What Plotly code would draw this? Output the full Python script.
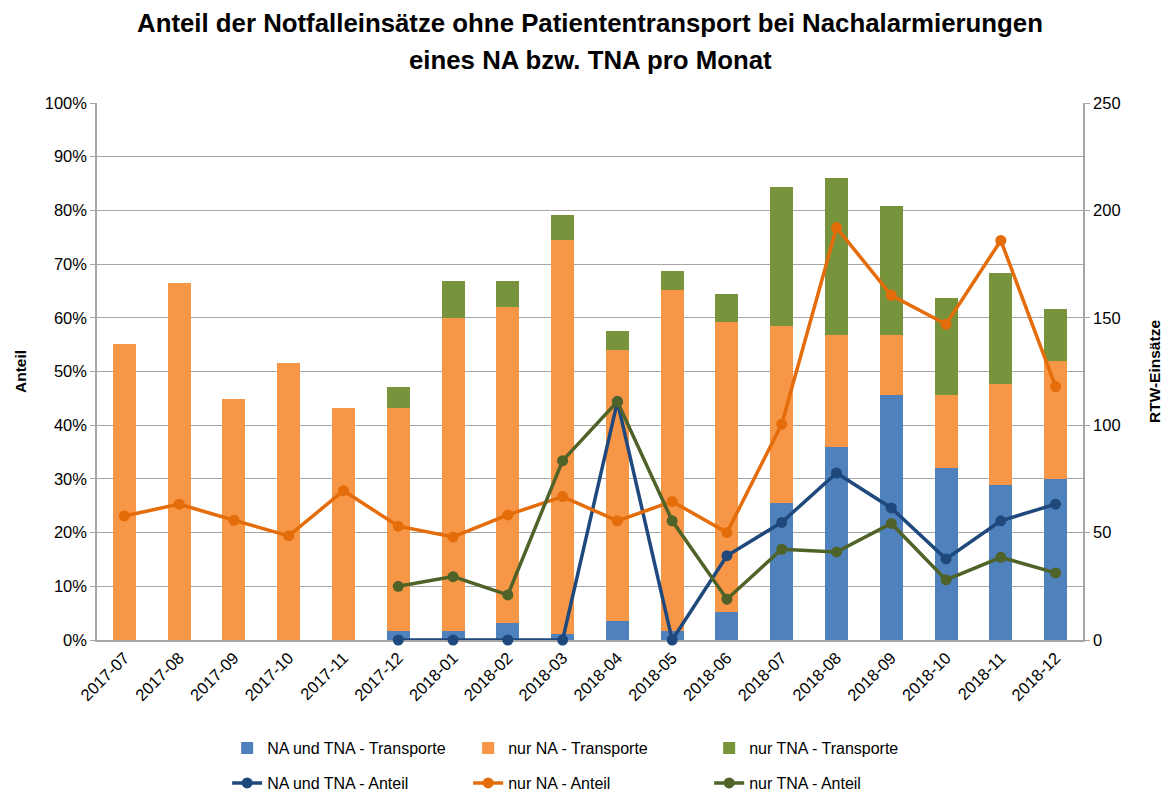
import plotly.graph_objects as go

months = ["2017-07", "2017-08", "2017-09", "2017-10", "2017-11", "2017-12",
          "2018-01", "2018-02", "2018-03", "2018-04", "2018-05", "2018-06",
          "2018-07", "2018-08", "2018-09", "2018-10", "2018-11", "2018-12"]

# RTW-Einsätze (stacked bars, right axis)
na_tna_transporte = [0, 0, 0, 0, 0, 4, 4, 8, 3, 9, 4, 13, 64, 90, 114, 80, 72, 75]
nur_na_transporte = [138, 166, 112, 129, 108, 104, 146, 147, 183, 126, 159, 135, 82, 52, 28, 34, 47, 55]
nur_tna_transporte = [0, 0, 0, 0, 0, 10, 17, 12, 12, 9, 9, 13, 65, 73, 60, 45, 52, 24]

# Anteil (lines, left axis, fraction)
na_tna_anteil = [None, None, None, None, None, 0.0, 0.0, 0.0, 0.0, 0.444, 0.0, 0.157,
                 0.219, 0.311, 0.246, 0.151, 0.222, 0.253]
nur_na_anteil = [0.231, 0.253, 0.223, 0.194, 0.278, 0.212, 0.192, 0.233, 0.267, 0.222,
                 0.258, 0.200, 0.402, 0.768, 0.642, 0.588, 0.744, 0.472]
nur_tna_anteil = [None, None, None, None, None, 0.100, 0.118, 0.084, 0.334, 0.444, 0.222,
                  0.076, 0.169, 0.164, 0.217, 0.112, 0.154, 0.125]

title_lines = ["Anteil der Notfalleinsätze ohne Patiententransport bei Nachalarmierungen",
               "eines NA bzw. TNA pro Monat"]

FONT = "Liberation Sans"
OFF = 8  # page body margin
W, H = 1171 - OFF, 793 - OFF
ML, MR, MT, MB = 97 - OFF, 88, 103 - OFF, 153
PH = H - MT - MB

fig = go.Figure()

bar_specs = [
    ("NA und TNA - Transporte", na_tna_transporte, "#4F81BD"),
    ("nur NA - Transporte", nur_na_transporte, "#F79646"),
    ("nur TNA - Transporte", nur_tna_transporte, "#77933C"),
]
for name, vals, col in bar_specs:
    fig.add_trace(go.Bar(x=months, y=vals, name=name, marker_color=col,
                         marker_line_width=0, yaxis="y", legend="legend"))

line_specs = [
    ("NA und TNA - Anteil", na_tna_anteil, "#1F497D"),
    ("nur NA - Anteil", nur_na_anteil, "#E46C0A"),
    ("nur TNA - Anteil", nur_tna_anteil, "#4F6228"),
]
for name, vals, col in line_specs:
    fig.add_trace(go.Scatter(x=months, y=vals, name=name, mode="lines+markers",
                             line=dict(color=col, width=3.5),
                             marker=dict(color=col, size=11),
                             cliponaxis=False,
                             yaxis="y2", legend="legend2", connectgaps=False))

# two-line title as text annotations (exact line placement)
for txt, py in zip(title_lines, [23, 60]):
    fig.add_annotation(text=txt, x=0.5, xref="paper", xanchor="center",
                       y=(H - MB - (py - OFF)) / PH, yref="paper", yanchor="middle",
                       showarrow=False,
                       font=dict(family=FONT, size=25.8, color="black", weight="bold"))

fig.update_layout(
    width=W, height=H,
    paper_bgcolor="white", plot_bgcolor="white",
    font=dict(family=FONT, size=16.5, color="black"),
    margin=dict(l=ML, r=MR, t=MT, b=MB, autoexpand=False),
    barmode="stack", bargap=0.58,
    xaxis=dict(type="category", tickangle=-45, showgrid=False,
               range=[-0.5, len(months) - 0.5], autorange=False,
               showline=True, linecolor="#A6A6A6", linewidth=1.5,
               layer="below traces",
               ticks="", tickfont=dict(size=16.5), automargin=False),
    yaxis=dict(range=[0, 250], dtick=50, side="right", showgrid=False,
               showline=True, linecolor="#A6A6A6", linewidth=1.5,
               ticks="outside", ticklen=5, tickcolor="#A6A6A6",
               layer="below traces",
               zeroline=False, automargin=False, tickfont=dict(size=16.5),
               title=dict(text="RTW-Einsätze", font=dict(size=15.5, weight="bold"), standoff=30)),
    yaxis2=dict(range=[0, 1], dtick=0.1, tickformat=".0%", side="left",
                overlaying="y", showgrid=True, gridcolor="#A6A6A6", gridwidth=1.3,
                showline=True, linecolor="#A6A6A6", linewidth=1.5,
                ticks="outside", ticklen=5, tickcolor="#A6A6A6",
                layer="below traces",
                zeroline=False, automargin=False, tickfont=dict(size=16.5),
                title=dict(text="Anteil", font=dict(size=15.5, weight="bold"), standoff=14)),
    legend=dict(orientation="h", x=0.132, xanchor="left",
                y=1 - (748 - 17 - OFF) / H, yref="container", yanchor="top",
                entrywidth=196, entrywidthmode="pixels",
                font=dict(size=16), bgcolor="rgba(0,0,0,0)", traceorder="normal"),
    legend2=dict(orientation="h", x=0.132, xanchor="left",
                 y=1 - (783 - 17 - OFF) / H, yref="container", yanchor="top",
                 entrywidth=196, entrywidthmode="pixels",
                 font=dict(size=16), bgcolor="rgba(0,0,0,0)", traceorder="normal"),
)

fig.write_html("out.html")
